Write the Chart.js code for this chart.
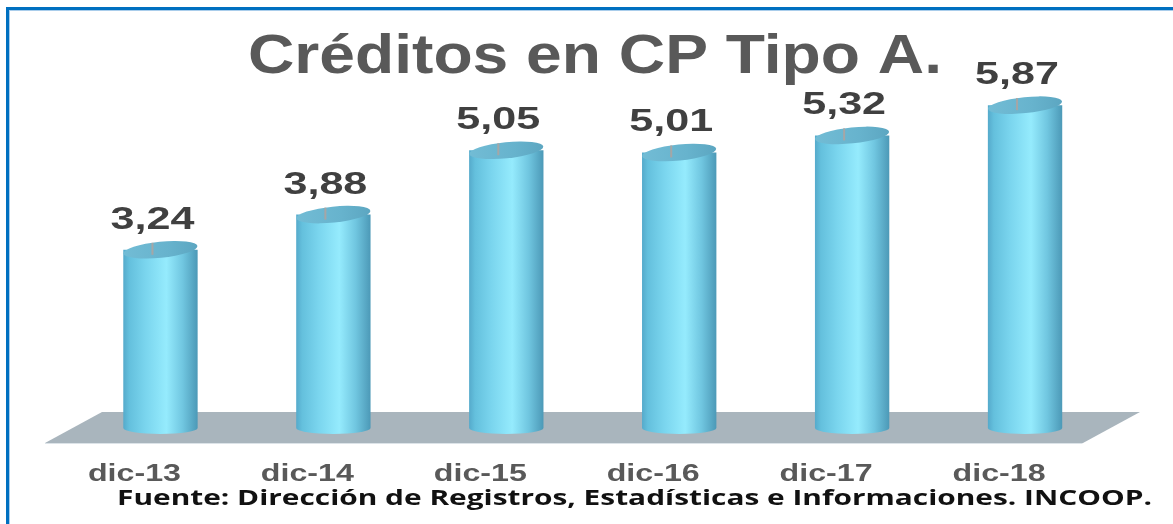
<!DOCTYPE html>
<html>
<head>
<meta charset="utf-8">
<script src="https://cdn.jsdelivr.net/npm/chart.js@4.4.1/dist/chart.umd.min.js"></script>
<style>
  html, body { margin: 0; padding: 0; background: #ffffff; }
  canvas { display: block; }
</style>
</head>
<body>
<canvas id="chart" width="1173" height="524" style="width:1173px;height:524px"></canvas>
<script>
const categories = ['dic-13', 'dic-14', 'dic-15', 'dic-16', 'dic-17', 'dic-18'];
const values = [3.24, 3.88, 5.05, 5.01, 5.32, 5.87];
const titleText = 'Créditos en CP Tipo A.';
const sourceText = 'Fuente: Dirección de Registros, Estadísticas e Informaciones. INCOOP.';

// texto estirado horizontalmente (la imagen original viene ensanchada)
function drawStretched(ctx, text, cx, baseline, font, color, scaleX, targetW) {
    ctx.save();
    ctx.font = font;
    let s = scaleX;
    if (targetW) s = targetW / ctx.measureText(text).width;
    ctx.translate(cx, baseline);
    ctx.scale(s, 1);
    ctx.fillStyle = color;
    ctx.textAlign = 'center';
    ctx.textBaseline = 'alphabetic';
    ctx.fillText(text, 0, 0);
    ctx.restore();
}

const cylinderPlugin = {
    id: 'cylinders',
    beforeDatasetsDraw(chart) {
        const ctx = chart.ctx;
        const area = chart.chartArea;
        const zero = chart.scales.y.getPixelForValue(0);

        // marco azul
        ctx.save();
        ctx.fillStyle = '#0070C0';
        ctx.fillRect(6, 7, chart.width - 6, 3);
        ctx.fillRect(6, 7, 3, chart.height - 7);
        ctx.fillStyle = '#A9CDEB';
        ctx.fillRect(9, 10, chart.width - 9, 1);
        ctx.fillRect(9, 10, 1, chart.height - 10);

        // piso gris
        ctx.fillStyle = '#A9B5BD';
        ctx.beginPath();
        ctx.moveTo(area.left + 28, zero - 16);
        ctx.lineTo(area.right + 28.5, zero - 16);
        ctx.lineTo(area.right - 28.5, zero + 15);
        ctx.lineTo(area.left - 29, zero + 15);
        ctx.closePath();
        ctx.fill();
        ctx.fillStyle = '#DCE3E8';
        ctx.fillRect(area.left - 29, zero + 15, area.right - area.left, 1);
        ctx.restore();
    },
    afterDatasetsDraw(chart) {
        const ctx = chart.ctx;
        const meta = chart.getDatasetMeta(0);

        meta.data.forEach(function (bar, i) {
            const x = bar.x, top = bar.y, base = bar.base;
            const rx = bar.width / 2;

            // cuerpo del cilindro
            const g = ctx.createLinearGradient(x - rx, 0, x + rx, 0);
            g.addColorStop(0, '#55AACB');
            g.addColorStop(0.08, '#64C0DD');
            g.addColorStop(0.3, '#7AD5EE');
            g.addColorStop(0.58, '#95EBFD');
            g.addColorStop(0.8, '#70C6E0');
            g.addColorStop(1, '#4C99B7');
            ctx.save();
            ctx.fillStyle = g;
            ctx.beginPath();
            ctx.moveTo(x - rx, top);
            ctx.lineTo(x - rx, base);
            ctx.ellipse(x, base, rx, 6, 0, Math.PI, 0, true);
            ctx.lineTo(x + rx, top);
            ctx.closePath();
            ctx.fill();

            // tapa
            const gt = ctx.createLinearGradient(x - rx, 0, x + rx, 0);
            gt.addColorStop(0, '#72BCD5');
            gt.addColorStop(0.6, '#67B3CD');
            gt.addColorStop(1, '#5CA6C1');
            ctx.fillStyle = gt;
            ctx.beginPath();
            ctx.ellipse(x, top, rx, 8, -0.1, 0, Math.PI * 2);
            ctx.fill();

            // línea guía y etiqueta
            const lx = x - 8;
            ctx.strokeStyle = '#A6A6A6';
            ctx.lineWidth = 2;
            ctx.beginPath();
            ctx.moveTo(lx, top - 7);
            ctx.lineTo(lx, top + 5);
            ctx.stroke();
            ctx.restore();

            const txt = values[i].toFixed(2).replace('.', ',');
            drawStretched(ctx, txt, lx, top - 21, 'bold 31px "Liberation Sans", Arial, sans-serif', '#404040', 1.39);

            // categoría
            drawStretched(ctx, categories[i], x - 26, 481, 'bold 23px "Liberation Sans", Arial, sans-serif', '#595959', 1.4);
        });

        drawStretched(ctx, titleText, 595, 73, 'bold 55px "Liberation Sans", Arial, sans-serif', '#595959', 1, 694);
        drawStretched(ctx, sourceText, 634.5, 505, 'bold 21px "Open Sans", sans-serif', '#111111', 1, 1035);
    }
};

new Chart(document.getElementById('chart').getContext('2d'), {
    type: 'bar',
    data: {
        labels: categories,
        datasets: [{
            label: 'Créditos',
            data: values,
            backgroundColor: 'rgba(0,0,0,0)',
            borderWidth: 0,
            barPercentage: 0.43,
            categoryPercentage: 1
        }]
    },
    options: {
        responsive: false,
        animation: false,
        devicePixelRatio: 1,
        layout: { padding: { left: 74, right: 61.5, top: 70.5, bottom: 96 } },
        plugins: {
            legend: { display: false },
            tooltip: { enabled: false }
        },
        scales: {
            x: { display: false },
            y: { display: false, min: 0, max: 6.5 }
        }
    },
    plugins: [cylinderPlugin]
});
</script>
</body>
</html>
